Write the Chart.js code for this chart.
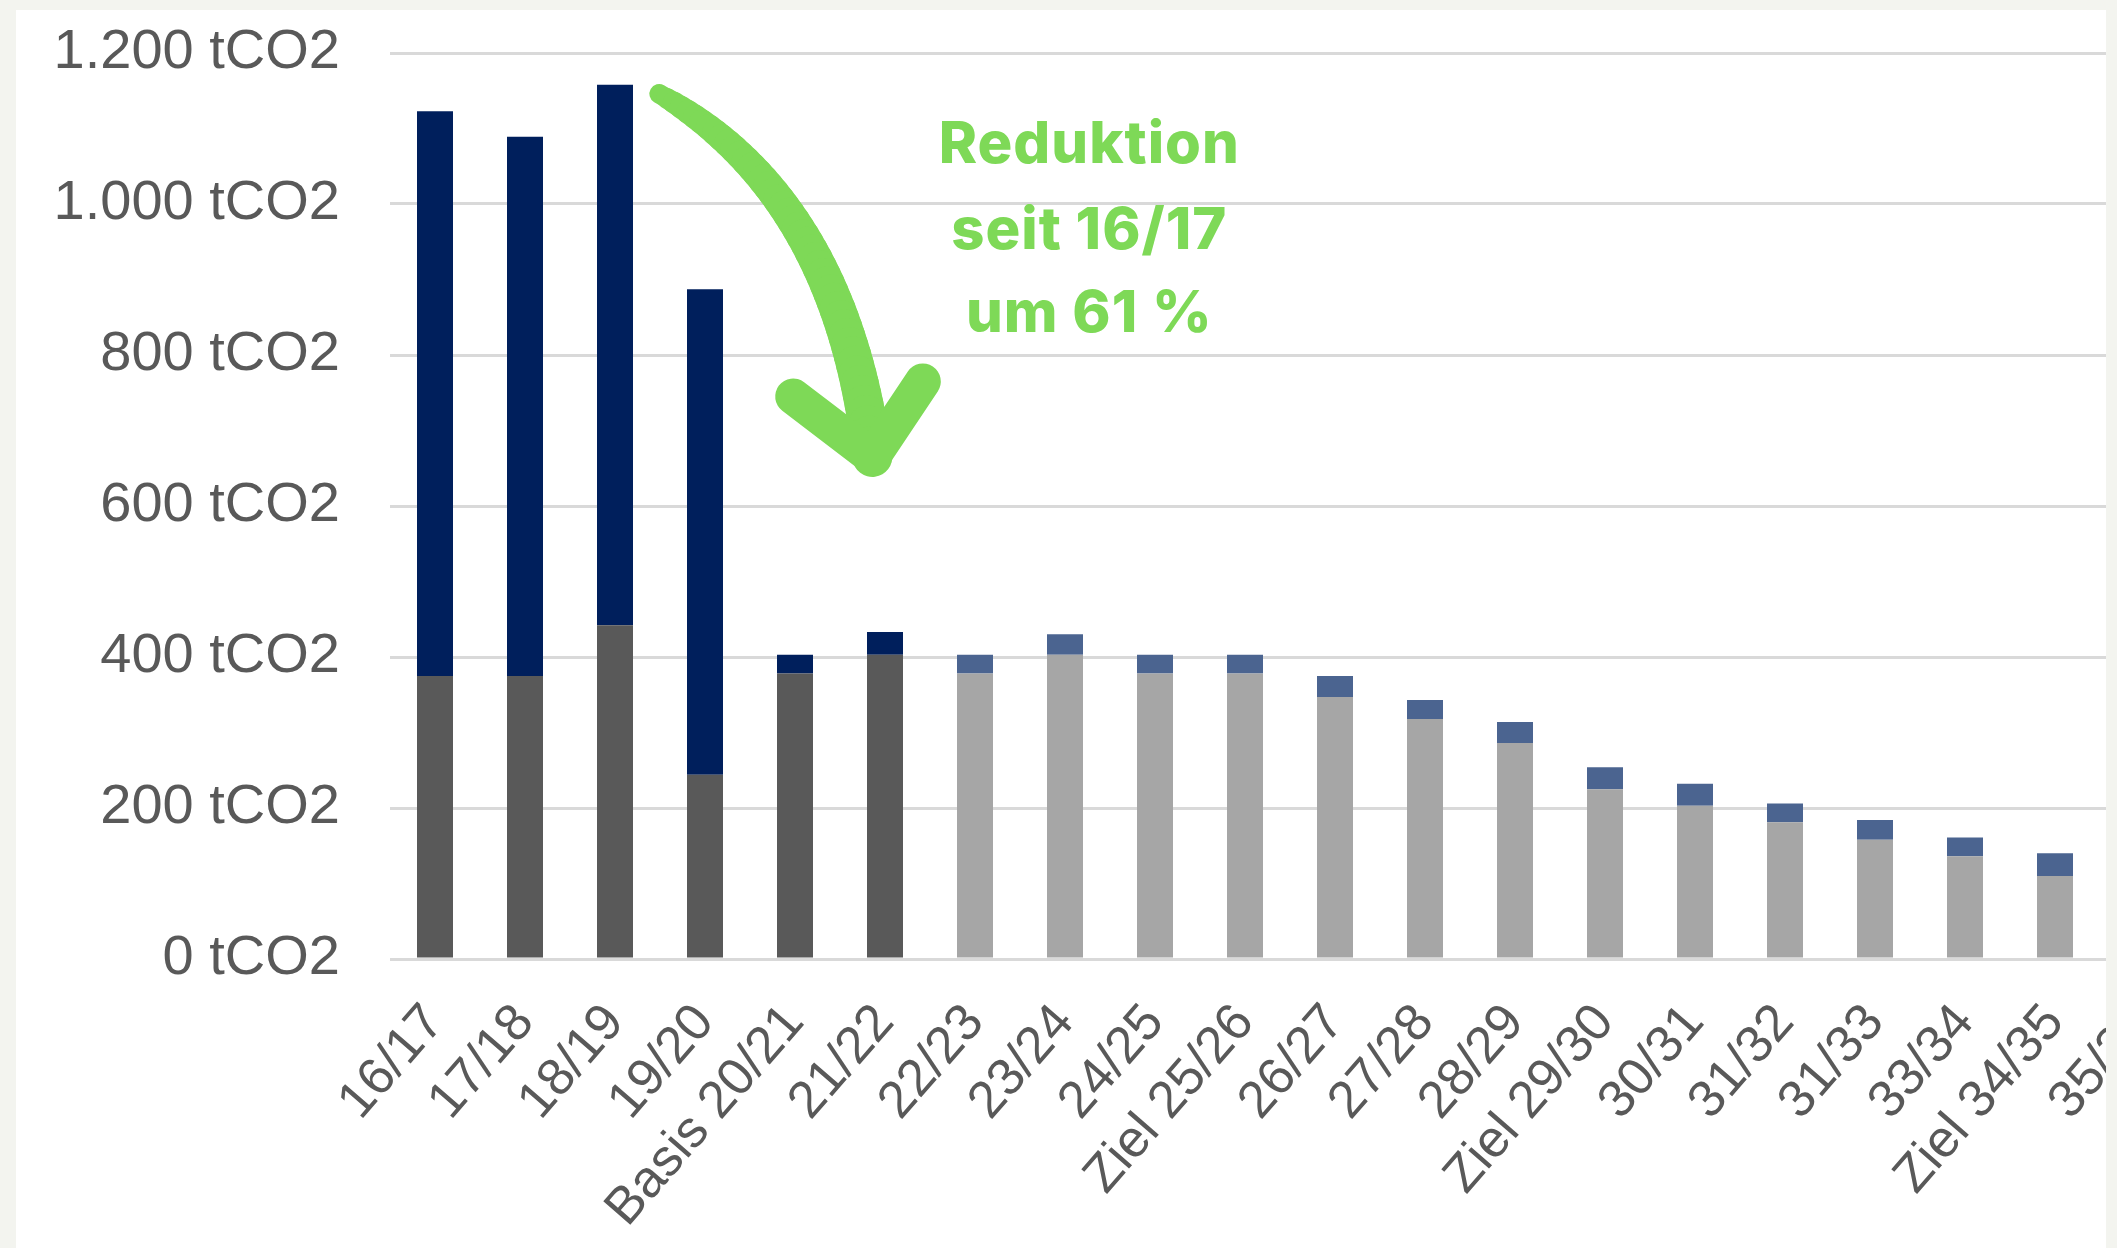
<!DOCTYPE html>
<html>
<head>
<meta charset="utf-8">
<script src="https://cdn.jsdelivr.net/npm/chart.js@4.4.1/dist/chart.umd.min.js"></script>
<style>
  html, body { margin: 0; padding: 0; background: #f3f4ef; }
  #card {
    position: absolute; left: 16px; top: 10px;
    width: 2090px; height: 1238px;
    background: #ffffff; overflow: hidden;
  }
  #wrap { position: absolute; left: 0; top: 0; width: 2200px; height: 1238px; }
</style>
</head>
<body>
<div id="card">
  <div id="wrap"><canvas id="co2Chart"></canvas></div>
</div>
<script>
// Emissions per school year (tCO2)
const years = ['16/17', '17/18', '18/19', '19/20', 'Basis 20/21', '21/22', '22/23', '23/24', '24/25',
  'Ziel 25/26', '26/27', '27/28', '28/29', 'Ziel 29/30', '30/31', '31/32', '31/33', '33/34',
  'Ziel 34/35', '35/36'];
const baseEmissions = [375, 375, 442, 244, 378, 403, 378, 403, 378, 378, 347, 318, 286, 225, 203, 181, 158, 136, 110, 90];
const extraEmissions = [748, 714, 716, 643, 25, 30, 25, 27, 25, 25, 28, 25, 28, 29, 29, 25, 26, 25, 30, 25];
const yTicks = [0, 200, 400, 600, 800, 1000, 1200];
const actualYears = 6; // first six bars are measured, the rest are targets

const annotationLines = ['Reduktion', 'seit 16/17', 'um 61 %'];

const GREEN = '#7ed957';
const TICK_COLOR = '#595959';
const TICK_FAMILY = "'Liberation Sans', Arial, sans-serif";

function formatTons(v) {
  return String(v).replace(/\B(?=(\d{3})+(?!\d))/g, '.') + ' tCO2';
}

// Green arrow + text, anchored in data space (category index, tCO2)
const reductionNote = {
  id: 'reductionNote',
  afterDatasetsDraw(chart) {
    const { ctx, scales: { x, y } } = chart;
    const p = (i, v) => ({ x: x.getPixelForValue(i), y: y.getPixelForValue(v) });

    const start = p(2.49, 1146);
    const ctrl = p(4.5, 1010);
    const tip = p(4.86, 665);
    const armL = p(3.98, 745);
    const armR = p(5.42, 765);

    ctx.save();
    ctx.strokeStyle = GREEN;
    ctx.lineCap = 'round';
    ctx.lineJoin = 'round';

    // tapered curve
    const steps = 48;
    let prev = start;
    for (let s = 1; s <= steps; s++) {
      const t = s / steps;
      const pt = {
        x: (1 - t) * (1 - t) * start.x + 2 * (1 - t) * t * ctrl.x + t * t * tip.x,
        y: (1 - t) * (1 - t) * start.y + 2 * (1 - t) * t * ctrl.y + t * t * tip.y
      };
      ctx.lineWidth = 16 + 24 * Math.sqrt(t);
      ctx.beginPath();
      ctx.moveTo(prev.x, prev.y);
      ctx.lineTo(pt.x, pt.y);
      ctx.stroke();
      prev = pt;
    }

    // arrow head
    ctx.lineWidth = 36;
    ctx.beginPath();
    ctx.moveTo(armL.x, armL.y);
    ctx.lineTo(tip.x, tip.y);
    ctx.lineTo(armR.x, armR.y);
    ctx.stroke();

    // text
    ctx.fillStyle = GREEN;
    ctx.font = "800 58px Inter, 'Noto Sans', sans-serif";
    ctx.textAlign = 'center';
    ctx.textBaseline = 'middle';
    if ('letterSpacing' in ctx) ctx.letterSpacing = '1px';
    const lineValues = [1077, 964, 853];
    annotationLines.forEach((line, i) => {
      const pos = p(7.27, lineValues[i]);
      ctx.fillText(line, pos.x, pos.y);
    });
    ctx.restore();
  }
};

new Chart(document.getElementById('co2Chart'), {
  type: 'bar',
  data: {
    labels: years,
    datasets: [
      {
        label: 'Emissionen',
        data: baseEmissions,
        backgroundColor: ctx => ctx.dataIndex < actualYears ? '#595959' : '#a6a6a6'
      },
      {
        label: 'Zusatz',
        data: extraEmissions,
        backgroundColor: ctx => ctx.dataIndex < actualYears ? '#001f5c' : '#4b6490'
      }
    ]
  },
  options: {
    responsive: true,
    maintainAspectRatio: false,
    animation: false,
    // plot area: 374..2174 horizontally, 43..949 vertically (card coordinates)
    layout: { padding: { top: 43, right: 26, bottom: 0, left: 0 } },
    datasets: { bar: { categoryPercentage: 1, barPercentage: 0.4 } },
    scales: {
      x: {
        stacked: true,
        grid: { display: false },
        border: { display: false },
        afterFit: scale => {
          scale.height = 289;
          scale.paddingLeft = 0;
          scale.paddingRight = 0;
        },
        ticks: {
          autoSkip: false,
          minRotation: 49,
          maxRotation: 49,
          padding: 26,
          labelOffset: 0,
          color: TICK_COLOR,
          font: { family: TICK_FAMILY, size: 52 }
        }
      },
      y: {
        stacked: true,
        min: 0,
        max: 1200,
        afterFit: scale => {
          scale.width = 374;
          scale.paddingTop = 0;
          scale.paddingBottom = 0;
        },
        afterBuildTicks: scale => { scale.ticks = yTicks.map(v => ({ value: v })); },
        border: { display: false },
        grid: { color: '#d9d9d9', lineWidth: 3, drawTicks: false },
        ticks: {
          padding: 50,
          color: TICK_COLOR,
          font: { family: TICK_FAMILY, size: 56 },
          callback: v => formatTons(v)
        }
      }
    },
    plugins: {
      legend: { display: false },
      tooltip: { enabled: false }
    }
  },
  plugins: [reductionNote]
});
</script>
</body>
</html>
